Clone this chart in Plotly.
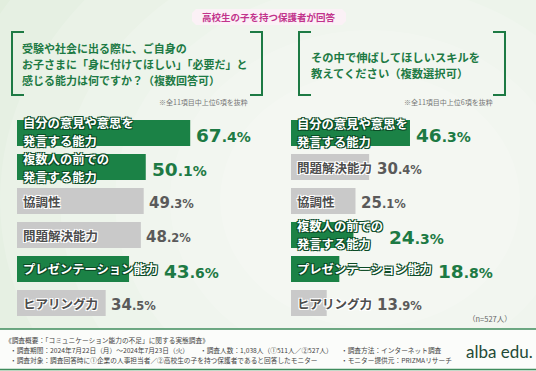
import plotly.graph_objects as go

# ---------------- data ----------------
left_labels = ["自分の意見や意思を\n発言する能力", "複数人の前での\n発言する能力", "協調性",
               "問題解決能力", "プレゼンテーション能力", "ヒアリング力"]
left_values = [67.4, 50.1, 49.3, 48.2, 43.6, 34.5]

right_labels = ["自分の意見や意思を\n発言する能力", "問題解決能力", "協調性",
                "複数人の前での\n発言する能力", "プレゼンテーション能力", "ヒアリング力"]
right_values = [46.3, 30.4, 25.1, 24.3, 18.8, 13.9]

highlighted = ["自分の意見や意思を発言する能力", "複数人の前での発言する能力", "プレゼンテーション能力"]

header_text = "高校生の子を持つ保護者が回答"
left_question = ["受験や社会に出る際に、ご自身の",
                 "お子さまに「身に付けてほしい」「必要だ」と",
                 "感じる能力は何ですか？（複数回答可）"]
right_question = ["その中で伸ばしてほしいスキルを",
                  "教えてください（複数選択可）"]
note_text = "※全11項目中上位6項を抜粋"
n_text = "（n=527人）"
footer_lines = [
    "《調査概要：「コミュニケーション能力の不足」に関する実態調査》",
    "・調査期間：2024年7月22日（月）～2024年7月23日（火）",
    "・調査人数：1,038人（①511人／②527人）",
    "・調査方法：インターネット調査",
    "・調査対象：調査回答時に①企業の人事担当者／②高校生の子を持つ保護者であると回答したモニター",
    "・モニター提供元：PRIZMAリサーチ",
]
logo_text = "alba edu."

# ---------------- styling / layout ----------------
W, H = 536, 371
PXU = 2.57  # pixels per percent
GREEN = "#1b8246"
GREEN_TXT = "#1d7a44"
GRAY_BAR = "#c9c9c9"
GRAY_TXT = "#4d4d4d"
JP = "Noto Sans CJK JP"
NUM = "DejaVu Sans"


def px(x):
    return x / W


def py(y):
    return 1 - y / H


def path(points, close=False):
    s = "M " + " L ".join(f"{px(x):.5f},{py(y):.5f}" for x, y in points)
    return s + (" Z" if close else "")


L_X0, L_RANGE = 17, 90
R_X0, R_RANGE = 291, 80
Y_TOP, Y_BOT = 116, 320

fig = go.Figure()
annotations = []


def panel(labels, values, xa, ya):
    cats = [l.replace("\n", "") for l in labels]
    colors = [GREEN if c in highlighted else GRAY_BAR for c in cats]
    fig.add_trace(go.Bar(x=values, y=cats, orientation="h", width=0.76,
                         marker=dict(color=colors, line_width=0),
                         xaxis=xa, yaxis=ya, hoverinfo="skip"))
    xref = "x" if xa == "x" else "x2"
    yref = "y" if ya == "y" else "y2"
    nlines = [len(l.split("\n")) for l in labels]
    for i, (lab, cat, val) in enumerate(zip(labels, cats, values)):
        hl = cat in highlighted
        fs = 12.3 if hl else 12.5
        lines = lab.split("\n")
        # nudge stacked two-line labels apart by a pixel so they do not touch
        nudge = 0
        if len(lines) > 1:
            if i + 1 < len(labels) and nlines[i + 1] > 1:
                nudge += 1
            if i > 0 and nlines[i - 1] > 1:
                nudge -= 1
        step = 1.45 * fs
        if hl:
            sc = "#0b4a25"
            font = dict(family=JP, size=fs, color="white", weight="bold",
                        shadow=f"-1px -1px 0 {sc}, 1px -1px 0 {sc}, -1px 1px 0 {sc}, 1px 1px 0 {sc}")
        else:
            font = dict(family=JP, size=fs, color=GRAY_TXT, weight="bold",
                        shadow="-1px -1px 0 #fff, 1px -1px 0 #fff, -1px 1px 0 #fff, 1px 1px 0 #fff")
        n = len(lines)
        for k, ln in enumerate(lines):
            ysh = ((n - 1) / 2 - k) * step + nudge
            annotations.append(dict(x=0, y=cat, xref=xref, yref=yref, text=ln,
                                    xanchor="left", yanchor="middle", xshift=6, yshift=ysh,
                                    showarrow=False, font=font, borderpad=0, borderwidth=0))
        label_px = 6 + max(len(l) for l in lines) * fs
        bar_px = val * PXU
        gap = 6 if hl else 5
        xshift = max(0, label_px - bar_px) + gap
        ip, dp = f"{val:.1f}".split(".")
        if hl:
            S, s, col = 18.5, 14, GREEN_TXT
        else:
            S, s, col = 15, 11.5, "#5a5a5a"
        txt = (f"<span style='font-size:{S}px'>{ip}</span>"
               f"<span style='font-size:{s}px'>.{dp}%</span>")
        annotations.append(dict(x=val, y=cat, xref=xref, yref=yref, text=txt,
                                xanchor="left", yanchor="middle", xshift=xshift, yshift=-2,
                                showarrow=False, borderpad=0, borderwidth=0,
                                font=dict(family=NUM, size=S, color=col, weight="bold")))
    return cats


lc = panel(left_labels, left_values, "x", "y")
rc = panel(right_labels, right_values, "x2", "y2")

ydom = [py(Y_BOT), py(Y_TOP)]
fig.update_layout(
    xaxis=dict(domain=[px(L_X0), px(L_X0 + L_RANGE * PXU)], range=[0, L_RANGE], visible=False),
    yaxis=dict(domain=ydom, type="category", categoryorder="array", categoryarray=lc,
               range=[5.5, -0.5], visible=False, anchor="x"),
    xaxis2=dict(domain=[px(R_X0), px(R_X0 + R_RANGE * PXU)], range=[0, R_RANGE], visible=False, anchor="y2"),
    yaxis2=dict(domain=ydom, type="category", categoryorder="array", categoryarray=rc,
                range=[5.5, -0.5], visible=False, anchor="x2"),
)

shapes = []
# background glow
shapes.append(dict(type="rect", xref="paper", yref="paper", x0=0, x1=1, y0=0, y1=1,
                   fillcolor="#e2eede", line_width=0, layer="below"))
for r in [430, 370, 310, 255, 200, 150]:
    cx, cy = 370, 200
    shapes.append(dict(type="circle", xref="paper", yref="paper",
                       x0=px(cx - r), x1=px(cx + r), y0=py(cy + r * 0.85), y1=py(cy - r * 0.85),
                       fillcolor="rgba(255,255,255,0.16)", line_width=0, layer="below"))

# header pill
hx0, hx1, hy0, hy1, rr = 192, 346, 9, 25, 4
shapes.append(dict(type="path", xref="paper", yref="paper",
                   path=path([(hx0 + rr, hy0), (hx1 - rr, hy0), (hx1, hy0 + rr), (hx1, hy1 - rr),
                              (hx1 - rr, hy1), (hx0 + rr, hy1), (hx0, hy1 - rr), (hx0, hy0 + rr)], True),
                   fillcolor="#fbf1f6", line_width=0))

# brackets
BR = "#1d7a44"
for x0, x1 in [(12, 262), (299, 505)]:
    y0, y1, t = 32, 95, 12
    shapes.append(dict(type="path", xref="paper", yref="paper",
                       path=path([(x0 + t, y0), (x0, y0), (x0, y1), (x0 + t, y1)]),
                       line=dict(color=BR, width=2)))
    shapes.append(dict(type="path", xref="paper", yref="paper",
                       path=path([(x1 - t, y0), (x1, y0), (x1, y1), (x1 - t, y1)]),
                       line=dict(color=BR, width=2)))

# footer band
shapes.append(dict(type="rect", xref="paper", yref="paper", x0=0, x1=1, y0=py(370), y1=py(329),
                   fillcolor="#fbfcfa", line_width=0))
for yy in (329, 369.5):
    shapes.append(dict(type="line", xref="paper", yref="paper", x0=0, x1=1, y0=py(yy), y1=py(yy),
                       line=dict(color="#3f8c5c", width=1.5)))


def txt(x, y, s, size, color, anchor="left", weight="normal", family=JP):
    annotations.append(dict(x=px(x), y=py(y), xref="paper", yref="paper", text=s,
                            xanchor=anchor, yanchor="middle", showarrow=False,
                            borderpad=0, borderwidth=0,
                            font=dict(family=family, size=size, color=color, weight=weight)))


txt(269, 17, header_text, 9.5, "#c2338c", "center", "bold")
for i, ln in enumerate(left_question):
    txt(22, 48 + i * 16, ln, 11, GREEN_TXT, "left", "bold")
for i, ln in enumerate(right_question):
    txt(311, 56.5 + i * 16.5, ln, 11.3, GREEN_TXT, "left", "bold")
txt(248, 102, note_text, 7, "#777777", "right")
txt(493, 102, note_text, 7, "#777777", "right")
txt(512, 318, n_text, 7.5, "#666666", "right")

FC = "#444444"
txt(5, 340, footer_lines[0], 6.7, FC)
txt(10, 350, footer_lines[1], 6.7, FC)
txt(200, 350, footer_lines[2], 6.7, FC)
txt(341, 350, footer_lines[3], 6.7, FC)
txt(10, 360, footer_lines[4], 6.7, FC)
txt(341, 360, footer_lines[5], 6.7, FC)
txt(499, 351, logo_text, 17, "#1f4a36", "center", "normal", "Lato")

fig.update_layout(
    width=W, height=H, margin=dict(l=0, r=0, t=0, b=0),
    paper_bgcolor="#eef5ec", plot_bgcolor="rgba(0,0,0,0)",
    showlegend=False, barmode="overlay",
    shapes=shapes, annotations=annotations,
)

fig.write_html("out.html", config={"displayModeBar": False, "staticPlot": True},
               post_script="document.body.style.margin='0';document.body.style.padding='0';"
                           "document.body.style.overflow='hidden';")
